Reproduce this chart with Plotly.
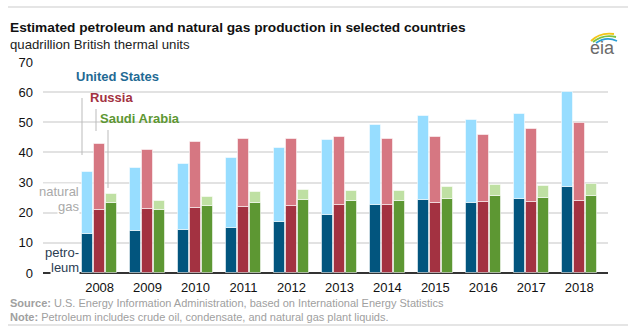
import plotly.graph_objects as go

years = [2008, 2009, 2010, 2011, 2012, 2013, 2014, 2015, 2016, 2017, 2018]
year_labels = [str(y) for y in years]

us_petroleum = [12.9, 13.8, 14.3, 14.9, 16.9, 19.2, 22.6, 24.1, 23.1, 24.4, 28.5]
us_gas = [20.7, 21.1, 21.9, 23.3, 24.7, 24.8, 26.6, 28.1, 27.5, 28.3, 31.5]
russia_petroleum = [20.8, 21.2, 21.4, 21.9, 22.2, 22.6, 22.6, 23.1, 23.7, 23.4, 23.9]
russia_gas = [22.1, 19.7, 22.2, 22.7, 22.3, 22.6, 22.0, 22.0, 22.2, 24.3, 25.7]
saudi_petroleum = [23.1, 20.8, 22.1, 23.2, 24.1, 23.8, 23.8, 24.6, 25.4, 24.8, 25.4]
saudi_gas = [3.1, 3.0, 3.2, 3.6, 3.6, 3.5, 3.5, 3.8, 3.9, 3.9, 4.0]

y_ticks = [0, 10, 20, 30, 40, 50, 60, 70]

W, H = 632, 330
L, R, T, B = 43, 608, 62, 273  # plot area in pixels


def px(x):
    return (x - L) / (R - L)


def py(y):
    return (B - y) / (B - T)


FONT = "Liberation Sans, Arial, sans-serif"
BW = 0.229
countries = [
    ("United States", us_petroleum, us_gas, "#02557e", "#97ddff", -0.365),
    ("Russia", russia_petroleum, russia_gas, "#a33241", "#d67782", -0.115),
    ("Saudi Arabia", saudi_petroleum, saudi_gas, "#5d9733", "#bfe0a3", 0.135),
]

fig = go.Figure()
for name, pet, gas, c1, c2, off in countries:
    fig.add_trace(go.Bar(
        x=years, y=pet, width=BW, offset=off, name=name + " petroleum",
        marker=dict(color=c1, line=dict(color="rgba(255,255,255,0.55)", width=1)),
        showlegend=False))
    fig.add_trace(go.Bar(
        x=years, y=gas, base=pet, width=BW, offset=off, name=name + " natural gas",
        marker=dict(color=c2, line=dict(color="rgba(255,255,255,0.55)", width=1)),
        showlegend=False))

ann = []


def text(x, y, s, size=12, color="#222", xanchor="left", bold=False, bg=None):
    d = dict(x=px(x), y=py(y), xref="paper", yref="paper", xanchor=xanchor, yanchor="middle",
             text=("<b>%s</b>" % s) if bold else s, showarrow=False,
             font=dict(family=FONT, size=size, color=color))
    if bg:
        d["bgcolor"] = bg
        d["borderpad"] = 0
    ann.append(d)


text(8, 28, "Estimated petroleum and natural gas production in selected countries", 13.7, "#111", bold=True)
text(8, 45, "quadrillion British thermal units", 13.2, "#222")
text(74, 76, "United States", 13, "#1f6a94", bold=True)
text(88, 97, "Russia", 13, "#a33241", bold=True)
text(98, 118, "Saudi Arabia", 13, "#5d9733", bold=True)
text(80, 191, "natural", 13, "#a9a9a9", xanchor="right", bg="white")
text(80, 206, "gas", 13, "#a9a9a9", xanchor="right", bg="white")
text(80, 252, "petro-", 13, "#2b3d52", xanchor="right", bg="white")
text(80, 267, "leum", 13, "#2b3d52", xanchor="right", bg="white")
text(8, 303, "<b>Source:</b> U.S. Energy Information Administration, based on International Energy Statistics", 11, "#a0a0a0")
text(8, 317, "<b>Note:</b> Petroleum includes crude oil, condensate, and natural gas plant liquids.", 11, "#a0a0a0")
text(602, 48, "eia", 18, "#6b6b6b", xanchor="center")

shapes = []


def line(x0, y0, x1, y1, color, width=1):
    shapes.append(dict(type="line", xref="paper", yref="paper", x0=px(x0), y0=py(y0),
                       x1=px(x1), y1=py(y1), line=dict(color=color, width=width)))


line(8, 7, 628, 7, "#dddddd", 1.5)
line(8, 325, 628, 325, "#dddddd", 1.5)
line(82, 98, 82, 155, "#bbbbbb", 1)
line(96, 109, 96, 131, "#bbbbbb", 1)
line(108, 130, 108, 188, "#bbbbbb", 1)


def arc(x0, y0, xc, yc, x1, y1, color, width=1.8):
    path = "M %f,%f Q %f,%f %f,%f" % (px(x0), py(y0), px(xc), py(yc), px(x1), py(y1))
    shapes.append(dict(type="path", xref="paper", yref="paper", path=path,
                       line=dict(color=color, width=width)))


arc(591, 41, 600, 32, 614, 34, "#f2c618")
arc(593, 42, 603, 34, 616, 37, "#7cc242")
arc(596, 43, 606, 36, 617, 41, "#2a9fd6")

fig.update_layout(
    width=W, height=H,
    margin=dict(l=L, r=W - R, t=T, b=H - B, pad=0),
    paper_bgcolor="white", plot_bgcolor="white",
    barmode="overlay",
    bargap=0,
    font=dict(family=FONT, size=13, color="#111"),
    annotations=ann, shapes=shapes,
    xaxis=dict(range=[2006.82, 2018.6], tickvals=years, ticktext=year_labels,
               showgrid=False, zeroline=False, showline=False, ticks="",
               tickfont=dict(family=FONT, size=13, color="#111"), ticklabelstandoff=5),
    yaxis=dict(range=[0, 70], tickvals=y_ticks, showgrid=True, gridcolor="#e2e2e2", gridwidth=1.5,
               zeroline=True, zerolinecolor="#333333", zerolinewidth=1.5, showline=False,
               ticks="", tickfont=dict(family=FONT, size=13, color="#111"), ticklabelstandoff=9),
)

fig.write_html("out.html")
